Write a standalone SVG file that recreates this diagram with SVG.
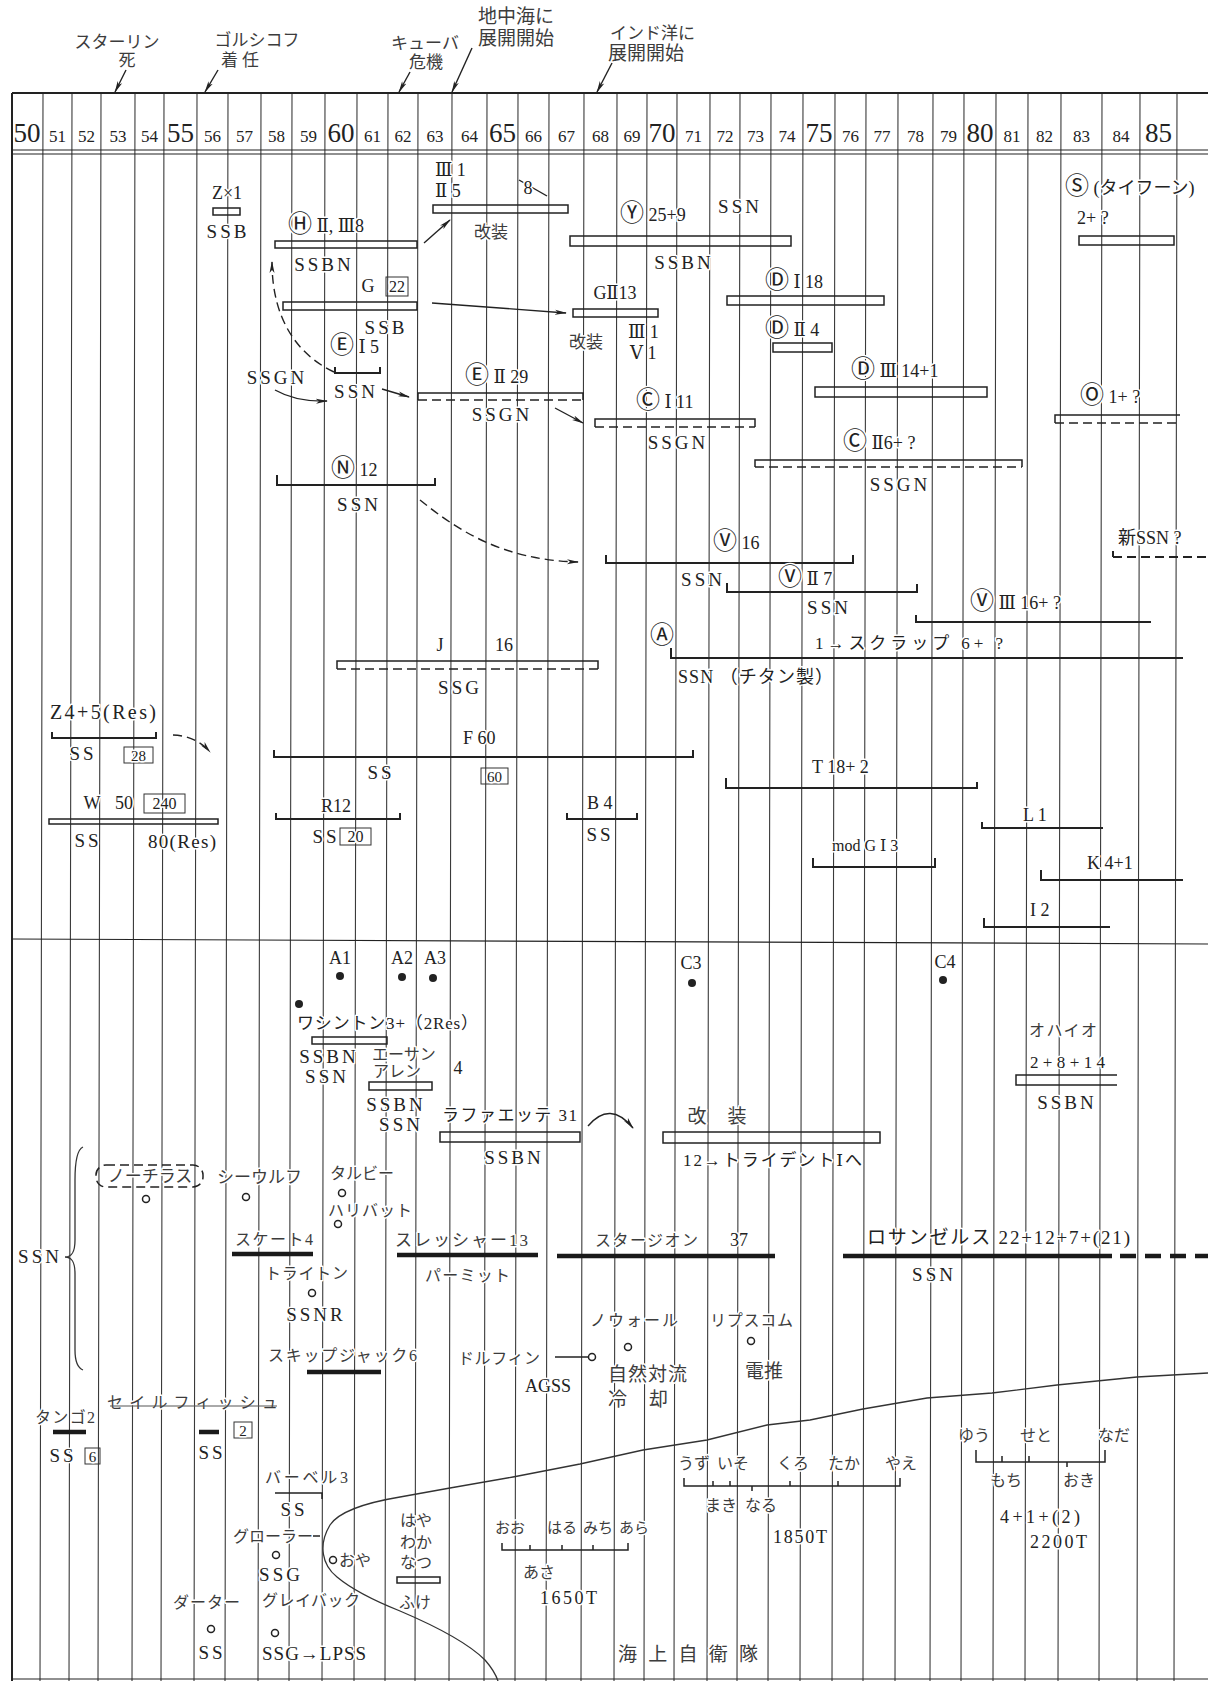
<svg xmlns="http://www.w3.org/2000/svg" width="1208" height="1681" viewBox="0 0 1208 1681">
<defs>
<style>
.g{stroke:#3a3a3a;stroke-width:1.1;fill:none}
.fr{stroke:#222;fill:none}
.b{fill:none;stroke:#222;stroke-width:1.5}
.br{fill:none;stroke:#222;stroke-width:2}
.dsh{stroke-dasharray:9 5}
.th{stroke:#1a1a1a;stroke-width:4.5;fill:none}
.c{fill:#fff;stroke:#222;stroke-width:1.5}
.d{fill:#222}
.bx{fill:none;stroke:#333;stroke-width:1}
.ar{fill:none;stroke:#222;stroke-width:1.4}
text{font-family:"Liberation Serif","DejaVu Serif","Noto Sans CJK JP",serif;font-size:18px;fill:#222;stroke:#fff;stroke-width:3px;paint-order:stroke;stroke-linejoin:round}
.ci{font-family:"Noto Sans CJK JP","DejaVu Sans",sans-serif;font-size:24px}
.m{text-anchor:middle}
.s{font-size:19px;letter-spacing:3px}
.f15{font-size:15px}
.f16{font-size:16px}
.f17{font-size:17px}
.f19{font-size:19px}
.f20{font-size:20px}
.y{font-size:17px;text-anchor:middle}
.Y{font-size:27px;text-anchor:middle}
.k{fill:#3c3c3c}
</style>
<marker id="ah" viewBox="0 0 12 6" refX="11" refY="3" markerWidth="12" markerHeight="6" markerUnits="userSpaceOnUse" orient="auto"><path d="M0,0.5 L12,3 L0,5.5 L3,3 Z" fill="#222"/></marker>
</defs>
<rect width="1208" height="1681" fill="#fff"/>
<g id="grid">
<path class="g" d="M43,93 L40,1681 M72,93 L69,1681 M101,93 L98,1681 M135,93 L132,1681 M164,93 L161,1681 M197,93 L194,1681 M228,93 L225,1681 M261,93 L258,1681 M292,93 L289,1681 M325,93 L322,1681 M357,93 L354,1681 M388,93 L385,1681 M418,93 L415,1681 M452,93 L449,1681 M487,93 L484,1681 M518,93 L515,1681 M549,93 L546,1681 M584,93 L581,1681 M617,93 L614,1681 M647,93 L644,1681 M677,93 L674,1681 M710,93 L707,1681 M740,93 L737,1681 M771,93 L768,1681 M803,93 L800,1681 M835,93 L832,1681 M866,93 L863,1681 M898,93 L895,1681 M933,93 L930,1681 M964,93 L961,1681 M996,93 L993,1681 M1028,93 L1025,1681 M1061,93 L1058,1681 M1102,93 L1099,1681 M1140,93 L1137,1681 M1177,93 L1174,1681"/>
<path class="fr" stroke-width="2" d="M12,93 H1208 M12,93 V1681"/>
<path class="fr" stroke-width="1.2" d="M12,150 H1208 M12,154 H1208 M12,939 L1208,944 M12,1679 H1208"/>
</g>
<g id="years">
<text class="Y" x="27" y="142">50</text><text class="y" x="57.5" y="142">51</text><text class="y" x="86.5" y="142">52</text><text class="y" x="118" y="142">53</text><text class="y" x="149.5" y="142">54</text>
<text class="Y" x="180.5" y="142">55</text><text class="y" x="212.5" y="142">56</text><text class="y" x="244.5" y="142">57</text><text class="y" x="276.5" y="142">58</text><text class="y" x="308.5" y="142">59</text>
<text class="Y" x="341" y="142">60</text><text class="y" x="372.5" y="142">61</text><text class="y" x="403" y="142">62</text><text class="y" x="435" y="142">63</text><text class="y" x="469.5" y="142">64</text>
<text class="Y" x="502.5" y="142">65</text><text class="y" x="533.5" y="142">66</text><text class="y" x="566.5" y="142">67</text><text class="y" x="600.5" y="142">68</text><text class="y" x="632" y="142">69</text>
<text class="Y" x="662" y="142">70</text><text class="y" x="693.5" y="142">71</text><text class="y" x="725" y="142">72</text><text class="y" x="755.5" y="142">73</text><text class="y" x="787" y="142">74</text>
<text class="Y" x="819" y="142">75</text><text class="y" x="850.5" y="142">76</text><text class="y" x="882" y="142">77</text><text class="y" x="915.5" y="142">78</text><text class="y" x="948.5" y="142">79</text>
<text class="Y" x="980" y="142">80</text><text class="y" x="1012" y="142">81</text><text class="y" x="1044.5" y="142">82</text><text class="y" x="1081.5" y="142">83</text><text class="y" x="1121" y="142">84</text>
<text class="Y" x="1158.5" y="142">85</text>
</g>
<g id="events">
<g id="ev-stalin"><text class="f17 m k" x="117" y="48">スターリン</text><text class="f17 m k" x="127" y="66">死</text></g>
<g id="ev-gorshkov"><text class="f17 m k" x="257" y="46">ゴルシコフ</text><text class="f17 m k" x="240" y="66">着 任</text></g>
<g id="ev-cuba"><text class="f17 m k" x="425" y="49">キューバ</text><text class="f17 m k" x="426" y="68">危機</text></g>
<g id="ev-med"><text class="f19 k" x="478" y="23">地中海に</text><text class="f19 k" x="478" y="45">展開開始</text></g>
<g id="ev-ind"><text class="f17 k" x="610" y="39">インド洋に</text><text class="f19 k" x="608" y="60">展開開始</text></g>
</g>
<g id="connectors">
<path class="ar" marker-end="url(#ah)" d="M126,70 L115,92"/>
<path class="ar" marker-end="url(#ah)" d="M218,70 L205,92"/>
<path class="ar" marker-end="url(#ah)" d="M410,72 L399,92"/>
<path class="ar" marker-end="url(#ah)" d="M472,48 L452,92"/>
<path class="ar" marker-end="url(#ah)" d="M612,63 L597,92"/>
<path class="ar" marker-end="url(#ah)" d="M424,243 L450,220"/>
<path class="ar" marker-end="url(#ah)" d="M432,303 L566,313"/>
<path class="ar dsh" marker-end="url(#ah)" d="M334,372 C300,356 272,322 272,262"/>
<path class="ar" marker-end="url(#ah)" d="M275,390 Q296,402 327,401"/>
<path class="ar" marker-end="url(#ah)" d="M382,389 L409,397"/>
<path class="ar" marker-end="url(#ah)" d="M555,408 L583,423"/>
<path class="ar dsh" marker-end="url(#ah)" d="M420,500 C455,528 500,560 578,562"/>
<path class="ar dsh" marker-end="url(#ah)" d="M173,735 Q196,736 210,752"/>
<path class="ar" marker-end="url(#ah)" d="M588,1126 Q610,1100 633,1128"/>
<path class="ar" d="M555,1357 H588"/>
</g>
<g id="japan-line">
<path fill="none" stroke="#333" stroke-width="1.3" d="M1208,1373 L1137,1377 L1057,1385 L992,1393 L927,1398 L863,1409 L810,1420 L767,1425 L707,1440 L643,1450 L580,1464 L513,1477 L450,1488 L400,1497 C370,1502 340,1510 330,1525 C318,1545 322,1565 337,1577 C355,1592 380,1603 400,1611 C440,1628 470,1645 485,1660 C492,1668 496,1675 498,1681"/>
</g>
<g id="soviet">
<g id="n-z"><text class="m" x="227" y="199">Z×1</text><rect class="b" x="213" y="208" width="27" height="7"/><text class="s m" x="228" y="238">SSB</text></g>
<g id="n-h"><text x="288" y="232"><tspan class="ci">Ⓗ</tspan> Ⅱ, Ⅲ8</text><rect class="b" x="275" y="241" width="142" height="7"/><text class="s m" x="324" y="271">SSBN</text></g>
<g id="n-g"><text class="m" x="368" y="292">G</text><rect class="bx" x="386" y="277" width="22" height="19"/><text class="f16 m" x="397" y="292">22</text><rect class="b" x="283" y="302" width="134" height="8"/><text class="s m" x="386" y="334">SSB</text></g>
<g id="n-e1"><text x="330" y="353"><tspan class="ci">Ⓔ</tspan> Ⅰ 5</text><path class="br" d="M335,367 V373 H380 V367"/><text class="s m" x="356" y="398">SSN</text><text class="s m" x="277" y="384">SSGN</text></g>
<g id="n-g2mod"><text x="435" y="176">Ⅲ 1</text><text x="435" y="197">Ⅱ 5</text><path class="ar" d="M519,180 L547,196"/><text class="m" x="528" y="194">8</text><rect class="b" x="433" y="205" width="135" height="8"/><text class="f17 m k" x="491" y="238">改装</text></g>
<g id="n-y"><text x="620" y="221"><tspan class="ci">Ⓨ</tspan> 25+9</text><text class="s m" x="740" y="213">SSN</text><rect class="b" x="570" y="236" width="221" height="10"/><text class="s m" x="684" y="269">SSBN</text></g>
<g id="n-d1"><text x="765" y="288"><tspan class="ci">Ⓓ</tspan> Ⅰ 18</text><rect class="b" x="727" y="296" width="157" height="9"/></g>
<g id="n-d2"><text x="765" y="336"><tspan class="ci">Ⓓ</tspan> Ⅱ 4</text><rect class="b" x="773" y="343" width="59" height="9"/></g>
<g id="n-g2"><text class="m" x="615" y="299">GⅡ13</text><rect class="b" x="573" y="309" width="85" height="8"/><text class="f17 m k" x="586" y="348">改装</text><text x="628" y="338">Ⅲ 1</text><text x="630" y="359">Ⅴ 1</text></g>
<g id="n-e2"><text x="465" y="383"><tspan class="ci">Ⓔ</tspan> Ⅱ 29</text><path class="b" d="M418,400 V393 H583 V400"/><path class="b dsh" d="M418,400 H583"/><text class="s m" x="502" y="421">SSGN</text></g>
<g id="n-c1"><text x="636" y="408"><tspan class="ci">Ⓒ</tspan> Ⅰ 11</text><path class="b" d="M595,427 V419 H755 V427"/><path class="b dsh" d="M595,427 H755"/><text class="s m" x="678" y="449">SSGN</text></g>
<g id="n-d3"><text x="851" y="377"><tspan class="ci">Ⓓ</tspan> Ⅲ 14+1</text><rect class="b" x="815" y="387" width="172" height="10"/></g>
<g id="n-o"><text x="1080" y="403"><tspan class="ci">Ⓞ</tspan> 1+ ?</text><path class="b" d="M1055,423 V415 H1180"/><path class="b dsh" d="M1055,423 H1180"/></g>
<g id="n-s"><text x="1065" y="194"><tspan class="ci">Ⓢ</tspan> (タイフーン)</text><text x="1077" y="224">2+ ?</text><rect class="b" x="1079" y="236" width="95" height="9"/></g>
<g id="n-c2"><text x="843" y="449"><tspan class="ci">Ⓒ</tspan> Ⅱ6+ ?</text><path class="b" d="M755,467 V460 H1022 V467"/><path class="b dsh" d="M755,467 H1022"/><text class="s m" x="900" y="491">SSGN</text></g>
<g id="n-n"><text x="331" y="476"><tspan class="ci">Ⓝ</tspan> 12</text><path class="br" d="M277,475 V485 H435 V478"/><text class="s m" x="359" y="511">SSN</text></g>
<g id="n-v1"><text x="713" y="549"><tspan class="ci">Ⓥ</tspan> 16</text><path class="br" d="M606,555 V563 H853 V555"/><text class="s m" x="703" y="586">SSN</text></g>
<g id="n-v2"><text x="778" y="585"><tspan class="ci">Ⓥ</tspan> Ⅱ 7</text><path class="br" d="M727,583 V592 H917 V584"/><text class="s m" x="829" y="614">SSN</text></g>
<g id="n-v3"><text x="970" y="609"><tspan class="ci">Ⓥ</tspan> Ⅲ 16+ ?</text><path class="br" d="M916,615 V622 H1151"/></g>
<g id="n-a"><text class="m ci" x="662" y="643">Ⓐ</text><path class="br" d="M671,648 V658 H1183"/><text class="f17" x="815" y="649" textLength="188">1→スクラップ 6+ ?</text><text x="678" y="683" textLength="155">SSN （チタン製）</text></g>
<g id="n-new"><text x="1118" y="544">新SSN ?</text><path class="br" d="M1113,551 V557"/><path class="br dsh" d="M1113,557 H1208"/></g>
<g id="n-j"><text class="m" x="440" y="651">J</text><text class="m" x="504" y="651">16</text><path class="b" d="M337,669 V661 H598 V669"/><path class="b dsh" d="M337,669 H598"/><text class="s m" x="460" y="694">SSG</text></g>
<g id="n-f"><text x="463" y="744">F 60</text><path class="br" d="M274,750 V757 H693 V750"/><text class="s m" x="381" y="779">SS</text><rect class="bx" x="481" y="768" width="27" height="16"/><text class="f15 m" x="494.5" y="782">60</text></g>
<g id="n-t"><text x="812" y="773">T 18+ 2</text><path class="br" d="M726,778 V788 H977 V782"/></g>
<g id="n-l"><text x="1023" y="821">L 1</text><path class="br" d="M982,822 V828 H1103"/></g>
<g id="n-modg"><text class="f16" x="832" y="851">mod G Ⅰ 3</text><path class="br" d="M813,858 V867 H935 V858"/></g>
<g id="n-k"><text x="1087" y="869">K 4+1</text><path class="br" d="M1041,870 V880 H1183"/></g>
<g id="n-i"><text x="1030" y="916">I 2</text><path class="br" d="M984,918 V927 H1110"/></g>
<g id="n-z4"><text class="f20" x="50" y="719" textLength="106">Z4+5(Res)</text><path class="br" d="M52,732 V738 H156 V732"/><text class="s m" x="83" y="760">SS</text><rect class="bx" x="124" y="747" width="29" height="16"/><text class="f15 m" x="138.5" y="761">28</text></g>
<g id="n-w"><text class="m" x="92" y="809">W</text><text class="m" x="124" y="809">50</text><rect class="bx" x="144" y="794" width="41" height="19"/><text class="f16 m" x="164.5" y="809">240</text><rect class="b" x="49" y="819" width="169" height="5"/><text class="s m" x="88" y="847">SS</text><text class="f19" x="148" y="848" textLength="68">80(Res)</text></g>
<g id="n-r"><text class="m" x="336" y="812">R12</text><path class="br" d="M276,813 V819 H400 V813"/><text class="s m" x="326" y="843">SS</text><rect class="bx" x="340" y="828" width="31" height="17"/><text class="f16 m" x="355.5" y="842">20</text></g>
<g id="n-b"><text x="587" y="809">B 4</text><path class="br" d="M567,813 V819 H637 V813"/><text class="s m" x="600" y="841">SS</text></g>
</g>
<g id="us">
<g id="n-a1"><text class="m" x="340" y="964">A1</text><circle class="d" cx="340" cy="976" r="4"/></g>
<g id="n-a2"><text class="m" x="402" y="964">A2</text><circle class="d" cx="402" cy="977" r="4"/></g>
<g id="n-a3"><text class="m" x="435" y="964">A3</text><circle class="d" cx="433" cy="978" r="4"/></g>
<g id="n-c3"><text class="m" x="691" y="969">C3</text><circle class="d" cx="692" cy="983" r="4"/></g>
<g id="n-c4"><text class="m" x="945" y="968">C4</text><circle class="d" cx="943" cy="980" r="4"/></g>
<g id="n-wash"><circle class="d" cx="299" cy="1004" r="4"/><text class="f17" x="297" y="1029" textLength="181">ワシントン3+（2Res）</text><rect class="b" x="312" y="1037" width="75" height="7"/><text class="s m" x="329" y="1063">SSBN</text><text class="s m" x="327" y="1083">SSN</text></g>
<g id="n-ethan"><text class="f16 k" x="372" y="1060">エーサン</text><text class="f16 k" x="373" y="1077">アレン</text><text class="m" x="458" y="1074">4</text><rect class="b" x="369" y="1082" width="63" height="8"/><text class="s m" x="396" y="1111">SSBN</text><text class="s m" x="401" y="1131">SSN</text></g>
<g id="n-lafa"><text class="f17" x="442" y="1121" textLength="135">ラファエッテ 31</text><rect class="b" x="440" y="1132" width="140" height="10"/><text class="s m" x="514" y="1164">SSBN</text></g>
<g id="n-kaiso"><text class="f19 m k" x="697" y="1123">改</text><text class="f19 m k" x="737" y="1123">装</text><rect class="b" x="663" y="1132" width="217" height="11"/><text class="f17" x="683" y="1166" textLength="179">12→トライデントⅠへ</text></g>
<g id="n-ohio"><text class="f16 k" x="1029" y="1036" textLength="68">オハイオ</text><text class="f17" x="1030" y="1068" textLength="75">2+8+14</text><path class="b" d="M1117,1075 H1016 V1085 H1117"/><text class="s m" x="1067" y="1109">SSBN</text></g>
<g id="n-naut"><rect class="b dsh" x="96" y="1165" width="107" height="22" rx="10"/><text class="f17 m k" x="150" y="1182">ノーチラス</text><circle class="c" cx="146" cy="1199" r="3.5"/></g>
<g id="n-seawolf"><text class="f17 k" x="217" y="1183">シーウルフ</text><circle class="c" cx="246" cy="1197" r="3.5"/></g>
<g id="n-tullibee"><text class="f16 k" x="330" y="1179">タルビー</text><circle class="c" cx="342" cy="1193" r="3.5"/></g>
<g id="n-halibut"><text class="f16 k" x="328" y="1216" textLength="84">ハリバット</text><circle class="c" cx="338" cy="1224" r="3.5"/></g>
<g id="n-skate"><text class="f16 k" x="235" y="1245" textLength="78">スケート4</text><path class="th" d="M232,1254 H313"/></g>
<g id="n-ssnbrace"><text class="s m" x="40" y="1263">SSN</text><path fill="none" stroke="#333" stroke-width="1.3" d="M83,1147 C76,1150 75,1165 75,1180 L75,1240 C75,1252 72,1257 65,1257 C72,1257 75,1262 75,1274 L75,1350 C75,1362 78,1368 83,1370"/></g>
<g id="n-thresher"><text class="f17 k" x="395" y="1246" textLength="133">スレッシャー13</text><path class="th" d="M397,1255 H538"/><text class="f16 k" x="425" y="1281" textLength="85">パーミット</text></g>
<g id="n-triton"><text class="f16 k" x="265" y="1279" textLength="83">トライトン</text><circle class="c" cx="312" cy="1293" r="3.5"/><text class="s m" x="316" y="1321">SSNR</text></g>
<g id="n-sturgeon"><text class="f16 k" x="595" y="1246" textLength="103">スタージオン</text><text class="m" x="739" y="1246">37</text><path class="th" d="M557,1256 H775"/></g>
<g id="n-la"><text class="f19" x="867" y="1244" textLength="263">ロサンゼルス 22+12+7+(21)</text><path class="th" d="M843,1256 H1112"/><path class="th" stroke-dasharray="16 9" d="M1120,1256 H1208"/><text class="s m" x="934" y="1281">SSN</text></g>
<g id="n-skipjack"><text class="f16 k" x="268" y="1361" textLength="149">スキップジャック6</text><path class="th" d="M307,1372 H381"/></g>
<g id="n-narwhal"><text class="f16 k" x="590" y="1326" textLength="88">ノウォール</text><circle class="c" cx="628" cy="1347" r="3.5"/><text class="f19 k" x="608" y="1381" textLength="79">自然対流</text><text class="f19 k" x="608" y="1406" textLength="60">冷　却</text></g>
<g id="n-lipscomb"><text class="f16 k" x="710" y="1326" textLength="83">リプスコム</text><circle class="c" cx="751" cy="1341" r="3.5"/><text class="f19 k" x="745" y="1378">電推</text></g>
<g id="n-dolphin"><text class="f16 k" x="458" y="1364" textLength="82">ドルフィン</text><circle class="c" cx="592" cy="1357" r="3.5"/><text class="m" x="548" y="1392">AGSS</text></g>
<g id="n-tang"><text class="f16 k" x="35" y="1423" textLength="60">タンゴ2</text><path class="th" d="M53,1432 H86"/><text class="s m" x="63" y="1462">SS</text><rect class="bx" x="85" y="1448" width="15" height="16"/><text class="f15 m" x="92.5" y="1462">6</text></g>
<g id="n-sailfish"><text class="f16 k" x="107" y="1408" textLength="171">セイルフィッシュ</text><path stroke="#555" stroke-width="1" d="M110,1406 H277"/><path class="th" d="M199,1432 H219"/><rect class="bx" x="234" y="1422" width="18" height="16"/><text class="f15 m" x="243" y="1436">2</text><text class="s m" x="212" y="1459">SS</text></g>
<g id="n-barbel"><text class="f16 k" x="265" y="1483" textLength="83">バーベル3</text><path class="b" d="M275,1493 H322 V1499"/><text class="s m" x="294" y="1516">SS</text></g>
<g id="n-growler"><text class="f16 k" x="233" y="1542" textLength="80">グローラー</text><path class="b" d="M313,1536 H320"/><circle class="c" cx="276" cy="1555" r="3.5"/><text class="s m" x="281" y="1581">SSG</text></g>
<g id="n-oyashio"><circle class="c" cx="333" cy="1560" r="3.5"/><text class="f16 k" x="339" y="1566">おや</text></g>
<g id="n-hayashio"><text class="f16 k" x="400" y="1526">はや</text><text class="f16 k" x="400" y="1548">わか</text><text class="f16 k" x="400" y="1568">なつ</text><rect class="b" x="397" y="1577" width="43" height="6"/><text class="f16 k" x="399" y="1608">ふけ</text></g>
<g id="n-darter"><text class="f16 k" x="173" y="1608" textLength="67">ダーター</text><circle class="c" cx="211" cy="1629" r="3.5"/><text class="s m" x="212" y="1659">SS</text></g>
<g id="n-grayback"><text class="f16 k" x="262" y="1606" textLength="98">グレイバック</text><circle class="c" cx="275" cy="1633" r="3.5"/><text class="f19" x="262" y="1660" letter-spacing="1">SSG→LPSS</text></g>
</g>
<g id="jmsdf">
<g id="n-ooshio"><text class="f15 k" x="495" y="1533">おお</text><text class="f15 k" x="547" y="1533">はる</text><text class="f15 k" x="583" y="1533">みち</text><text class="f15 k" x="619" y="1533">あら</text><path class="b" d="M502,1543 V1550 H628 V1543 M530,1550 V1545 M562,1550 V1545 M593,1550 V1545"/><text class="f16 k" x="523" y="1578">あさ</text><text x="540" y="1604" textLength="57">1650T</text></g>
<g id="n-uzushio"><text class="f16 k" x="678" y="1469">うず</text><text class="f16 k" x="717" y="1469">いそ</text><text class="f16 k" x="777" y="1469">くろ</text><text class="f16 k" x="828" y="1469">たか</text><text class="f16 k" x="885" y="1469">やえ</text><path class="b" d="M684,1478 V1486 H900 V1478 M713,1486 V1481 M730,1486 V1481 M790,1486 V1481 M838,1486 V1481 M752,1486 V1491"/><text class="f16 k" x="705" y="1511">まき</text><text class="f16 k" x="745" y="1511">なる</text><text x="773" y="1543" textLength="54">1850T</text></g>
<g id="n-yushio"><text class="f16 k" x="958" y="1441">ゆう</text><text class="f16 k" x="1020" y="1441">せと</text><text class="f16 k" x="1098" y="1441">なだ</text><path class="b" d="M976,1450 V1462 H1105 V1450 M1002,1462 V1456 M1029,1462 V1456 M1067,1462 V1467"/><text class="f16 k" x="990" y="1486">もち</text><text class="f16 k" x="1063" y="1486">おき</text><text x="1000" y="1523" textLength="80">4+1+(2)</text><text x="1030" y="1548" textLength="57">2200T</text></g>
<g id="n-jmsdf"><text class="f19 k" x="618" y="1661" textLength="140">海　上　自　衛　隊</text></g>
</g>
</svg>
